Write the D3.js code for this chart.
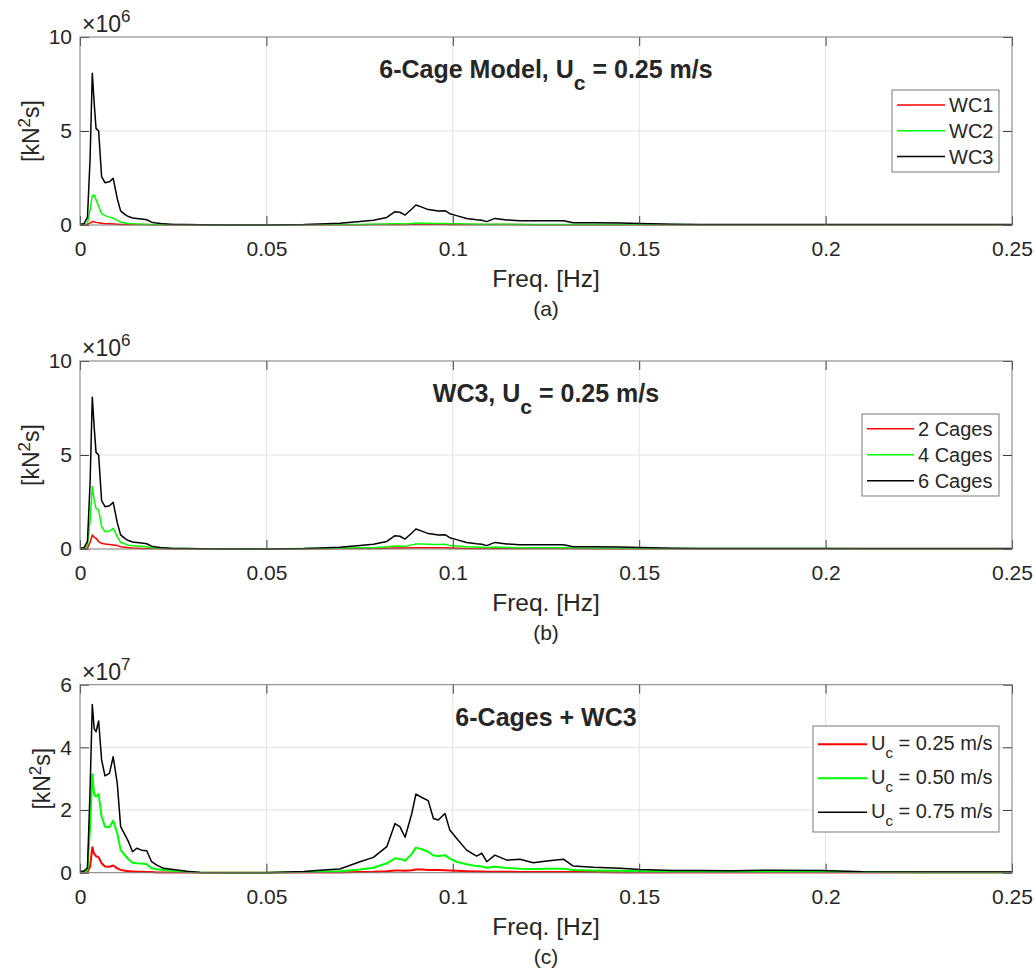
<!DOCTYPE html>
<html>
<head>
<meta charset="utf-8">
<script src="https://cdn.jsdelivr.net/npm/d3@7"></script>
<style>
	body { margin: 0; background: #fff; }
	text { font-family: 'Liberation Sans', Arial, sans-serif; fill: #262626; }
	.tick text { font-size: 21px; }
</style>
</head>
<body>
<svg id="viz" width="1036" height="974"></svg>
<script>

// Frequency grid [Hz] shared by all the spectra
var freq = [ 0, 0.001, 0.002, 0.0027, 0.0033, 0.0038, 0.0043, 0.005, 0.0058, 0.0067,
	0.0079, 0.0089, 0.0100, 0.0109, 0.0121, 0.0130, 0.0141, 0.0152, 0.0165, 0.0179,
	0.0192, 0.0206, 0.0224, 0.025, 0.0286, 0.0322, 0.04, 0.05, 0.06, 0.0644,
	0.0697, 0.0751, 0.0787, 0.0823, 0.0845, 0.0858, 0.0872, 0.089, 0.0901, 0.0917,
	0.0934, 0.0948, 0.0961, 0.0979, 0.0992, 0.101, 0.1037, 0.1064, 0.1078, 0.1091,
	0.1113, 0.1145, 0.118, 0.1216, 0.1252, 0.1297, 0.1323, 0.1377, 0.1449, 0.1502,
	0.1592, 0.1663, 0.175, 0.185, 0.199, 0.21, 0.225, 0.24, 0.25 ];

// (a) 6-cage model, x1e6
var aWC1 = [ 0, 0.01, 0.03, 0.1, 0.18, 0.17, 0.14, 0.12, 0.09, 0.07,
	0.06, 0.05, 0.04, 0.03, 0.03, 0.02, 0.02, 0.02, 0.02, 0.02,
	0.01, 0.01, 0.01, 0.01, 0.01, 0.01, 0, 0, 0.01, 0.01,
	0.01, 0.01, 0.02, 0.02, 0.03, 0.03, 0.03, 0.04, 0.05, 0.04,
	0.04, 0.04, 0.04, 0.04, 0.03, 0.03, 0.02, 0.02, 0.02, 0.02,
	0.02, 0.02, 0.02, 0.01, 0.01, 0.01, 0.01, 0.01, 0.01, 0.01,
	0.01, 0.01, 0.01, 0.01, 0.01, 0.01, 0.01, 0.01, 0.01 ];
var aWC2 = [ 0.02, 0.02, 0.1, 0.8, 1.55, 1.6, 1.35, 1.0, 0.6, 0.5,
	0.42, 0.36, 0.25, 0.15, 0.11, 0.08, 0.06, 0.05, 0.04, 0.03,
	0.02, 0.02, 0.02, 0.02, 0.01, 0.01, 0, 0, 0.01, 0.02,
	0.02, 0.03, 0.04, 0.05, 0.06, 0.06, 0.05, 0.08, 0.1, 0.09,
	0.09, 0.08, 0.08, 0.08, 0.07, 0.06, 0.05, 0.04, 0.04, 0.03,
	0.04, 0.04, 0.03, 0.03, 0.03, 0.03, 0.02, 0.02, 0.02, 0.02,
	0.02, 0.01, 0.01, 0.01, 0.01, 0.01, 0.01, 0.01, 0.01 ];
var aWC3 = [ 0.05, 0.05, 0.4, 3.5, 8.07, 6.5, 5.14, 5.0, 2.57, 2.25,
	2.3, 2.48, 1.4, 0.75, 0.55, 0.45, 0.37, 0.35, 0.32, 0.28,
	0.15, 0.1, 0.06, 0.03, 0.02, 0.01, 0, 0, 0.02, 0.05,
	0.09, 0.18, 0.25, 0.4, 0.71, 0.68, 0.53, 0.85, 1.06, 0.95,
	0.82, 0.78, 0.74, 0.76, 0.6, 0.5, 0.35, 0.28, 0.25, 0.18,
	0.35, 0.27, 0.23, 0.22, 0.23, 0.23, 0.12, 0.12, 0.1, 0.08,
	0.04, 0.03, 0.02, 0.03, 0.02, 0.02, 0.02, 0.02, 0.02 ];

// (b) WC3, number of cages, x1e6
var b2Cages = [ 0, 0.01, 0.05, 0.35, 0.74, 0.62, 0.57, 0.39, 0.3, 0.27,
	0.24, 0.21, 0.18, 0.12, 0.09, 0.07, 0.05, 0.04, 0.03, 0.02,
	0.02, 0.02, 0.01, 0.01, 0.01, 0.01, 0, 0, 0.01, 0.01,
	0.02, 0.02, 0.03, 0.04, 0.05, 0.05, 0.05, 0.06, 0.07, 0.07,
	0.06, 0.06, 0.06, 0.06, 0.05, 0.04, 0.03, 0.03, 0.03, 0.02,
	0.03, 0.02, 0.02, 0.02, 0.02, 0.02, 0.02, 0.01, 0.01, 0.01,
	0.01, 0.01, 0.01, 0.01, 0.01, 0.01, 0.01, 0.01, 0.01 ];
var b4Cages = [ 0.02, 0.02, 0.2, 1.5, 3.32, 2.6, 2.16, 2.07, 1.19, 0.92,
	0.95, 1.1, 0.66, 0.35, 0.27, 0.2, 0.17, 0.16, 0.15, 0.12,
	0.07, 0.05, 0.04, 0.03, 0.02, 0.01, 0, 0, 0.02, 0.03,
	0.04, 0.06, 0.07, 0.12, 0.16, 0.15, 0.14, 0.22, 0.27, 0.26,
	0.25, 0.24, 0.24, 0.25, 0.18, 0.16, 0.12, 0.1, 0.09, 0.07,
	0.1, 0.08, 0.07, 0.06, 0.07, 0.07, 0.05, 0.04, 0.04, 0.03,
	0.02, 0.02, 0.02, 0.02, 0.02, 0.01, 0.01, 0.01, 0.01 ];
var b6Cages = aWC3;

// (c) 6 cages + WC3, current speed, x1e7
var cU025 = [ 0, 0, 0.02, 0.19, 0.81, 0.6, 0.53, 0.49, 0.3, 0.2,
	0.19, 0.23, 0.14, 0.09, 0.06, 0.05, 0.04, 0.03, 0.03, 0.02,
	0.02, 0.01, 0.01, 0.01, 0.01, 0, 0, 0, 0.01, 0.01,
	0.01, 0.02, 0.03, 0.05, 0.07, 0.07, 0.06, 0.08, 0.1, 0.1,
	0.09, 0.09, 0.085, 0.08, 0.07, 0.06, 0.05, 0.04, 0.04, 0.03,
	0.03, 0.03, 0.02, 0.02, 0.02, 0.02, 0.02, 0.02, 0.01, 0.01,
	0.01, 0.01, 0.01, 0.01, 0.01, 0.01, 0.01, 0.01, 0.01 ];
var cU050 = [ 0.02, 0.02, 0.08, 1.47, 3.14, 2.5, 2.43, 2.51, 1.79, 1.47,
	1.45, 1.66, 1.26, 0.72, 0.55, 0.43, 0.32, 0.3, 0.29, 0.27,
	0.14, 0.11, 0.09, 0.06, 0.03, 0.01, 0, 0, 0.02, 0.04,
	0.05, 0.1, 0.16, 0.3, 0.46, 0.44, 0.38, 0.6, 0.8, 0.75,
	0.67, 0.55, 0.53, 0.56, 0.45, 0.35, 0.27, 0.21, 0.2, 0.16,
	0.19, 0.15, 0.13, 0.12, 0.13, 0.13, 0.085, 0.07, 0.06, 0.05,
	0.04, 0.04, 0.03, 0.04, 0.04, 0.02, 0.01, 0.01, 0.01 ];
var cU075 = [ 0.05, 0.05, 0.15, 2.64, 5.37, 4.6, 4.5, 4.84, 3.6, 3.09,
	3.17, 3.7, 2.85, 1.47, 1.2, 0.99, 0.67, 0.78, 0.72, 0.7,
	0.35, 0.24, 0.14, 0.1, 0.05, 0.01, 0, 0, 0.04, 0.08,
	0.12, 0.35, 0.49, 0.83, 1.57, 1.47, 1.13, 1.89, 2.51, 2.4,
	2.3, 1.73, 1.68, 1.89, 1.36, 1.1, 0.72, 0.53, 0.62, 0.35,
	0.56, 0.4, 0.43, 0.32, 0.37, 0.43, 0.21, 0.17, 0.14, 0.1,
	0.07, 0.07, 0.06, 0.08, 0.07, 0.03, 0.02, 0.02, 0.02 ];

var xTicks = [ 0, 0.05, 0.1, 0.15, 0.2, 0.25 ];
var xTickLabels = [ '0', '0.05', '0.1', '0.15', '0.2', '0.25' ];

var panels = [
	{
		top: 37, bottom: 225, yMax: 10, yTicks: [ 0, 5, 10 ], exponent: '6',
		title: [ '6-Cage Model, U', 'c', ' = 0.25 m/s' ], caption: '(a)', yLabelX: 39,
		series: [
			{ name: 'WC1', values: aWC1, color: '#ff0000', width: 1.5 },
			{ name: 'WC2', values: aWC2, color: '#00ff00', width: 1.5 },
			{ name: 'WC3', values: aWC3, color: '#000000', width: 1.5 }
		],
		legend: { x: 892, y: 90, w: 107, h: 82, first: 15, row: 25.8, lineW: 48, textX: 57, sub: false }
	},
	{
		top: 361, bottom: 549, yMax: 10, yTicks: [ 0, 5, 10 ], exponent: '6',
		title: [ 'WC3, U', 'c', ' = 0.25 m/s' ], caption: '(b)', yLabelX: 39,
		series: [
			{ name: '2 Cages', values: b2Cages, color: '#ff0000', width: 1.5 },
			{ name: '4 Cages', values: b4Cages, color: '#00ff00', width: 1.5 },
			{ name: '6 Cages', values: b6Cages, color: '#000000', width: 1.5 }
		],
		legend: { x: 862, y: 414, w: 137, h: 82, first: 14.7, row: 26, lineW: 47, textX: 56, sub: false }
	},
	{
		top: 684.7, bottom: 872.7, yMax: 6, yTicks: [ 0, 2, 4, 6 ], exponent: '7',
		title: [ '6-Cages + WC3' ], caption: '(c)', yLabelX: 50,
		series: [
			{ name: '0.25', values: cU025, color: '#ff0000', width: 2 },
			{ name: '0.50', values: cU050, color: '#00ff00', width: 2 },
			{ name: '0.75', values: cU075, color: '#000000', width: 1.5 }
		],
		legend: { x: 813, y: 726, w: 186, h: 106, first: 18.3, row: 34, lineW: 49, textX: 58, sub: true }
	}
];

var left = 80, right = 1012;
var svg = d3.select( '#viz' );

var xScale = d3.scaleLinear().domain( [ 0, 0.25 ] ).range( [ left, right ] );

panels.forEach( function ( p, pi ) {

	var yScale = d3.scaleLinear().domain( [ 0, p.yMax ] ).range( [ p.bottom, p.top ] );
	var g = svg.append( 'g' );

	// grid
	g.selectAll( 'line.gx' )
		.data( xTicks.slice( 1, -1 ) )
		.enter().append( 'line' )
		.attr( 'x1', function ( d ) { return xScale( d ); } )
		.attr( 'x2', function ( d ) { return xScale( d ); } )
		.attr( 'y1', p.top ).attr( 'y2', p.bottom )
		.style( 'stroke', '#e2e2e2' );
	g.selectAll( 'line.gy' )
		.data( p.yTicks.slice( 1, -1 ) )
		.enter().append( 'line' )
		.attr( 'x1', left ).attr( 'x2', right )
		.attr( 'y1', function ( d ) { return yScale( d ); } )
		.attr( 'y2', function ( d ) { return yScale( d ); } )
		.style( 'stroke', '#e2e2e2' );

	// curves
	svg.append( 'clipPath' ).attr( 'id', 'clip' + pi )
		.append( 'rect' ).attr( 'x', left ).attr( 'y', p.top - 1 )
		.attr( 'width', right - left ).attr( 'height', p.bottom - p.top + 2 );

	var line = d3.line()
		.x( function ( d, i ) { return xScale( freq[i] ); } )
		.y( function ( d ) { return yScale( d ); } );

	g.append( 'g' ).attr( 'clip-path', 'url(#clip' + pi + ')' )
		.selectAll( 'path' )
		.data( p.series )
		.enter().append( 'path' )
		.attr( 'd', function ( s ) { return line( s.values ); } )
		.style( 'fill', 'none' )
		.style( 'stroke', function ( s ) { return s.color; } )
		.style( 'stroke-width', function ( s ) { return s.width; } )
		.style( 'stroke-linejoin', 'round' );

	// axes, ticks pointing inwards on all four sides
	var xb = d3.axisBottom( xScale ).tickValues( xTicks )
		.tickFormat( function ( d, i ) { return xTickLabels[i]; } )
		.tickSize( -9 ).tickPadding( 16 );
	var xt = d3.axisTop( xScale ).tickValues( xTicks ).tickFormat( '' ).tickSize( -9 );
	var yl = d3.axisLeft( yScale ).tickValues( p.yTicks ).tickFormat( d3.format( 'd' ) )
		.tickSize( -9 ).tickPadding( 8 );
	var yr = d3.axisRight( yScale ).tickValues( p.yTicks ).tickFormat( '' ).tickSize( -9 );

	[
		g.append( 'g' ).attr( 'transform', 'translate(0,' + p.bottom + ')' ).call( xb ),
		g.append( 'g' ).attr( 'transform', 'translate(0,' + p.top + ')' ).call( xt ),
		g.append( 'g' ).attr( 'transform', 'translate(' + left + ',0)' ).call( yl ),
		g.append( 'g' ).attr( 'transform', 'translate(' + right + ',0)' ).call( yr )
	].forEach( function ( ax ) {
		ax.select( '.domain' ).remove();
		ax.selectAll( '.tick line' ).style( 'stroke', '#404040' );
		ax.selectAll( '.tick text' ).style( 'fill', '#262626' ).attr( 'font-family', null );
		ax.attr( 'font-size', null ).attr( 'font-family', null );
	} );

	g.append( 'rect' )
		.attr( 'x', left ).attr( 'y', p.top )
		.attr( 'width', right - left ).attr( 'height', p.bottom - p.top )
		.style( 'fill', 'none' ).style( 'stroke', '#7a7a7a' );

	// exponent
	var ex = g.append( 'text' ).attr( 'x', 82 ).attr( 'y', p.top - 5 ).style( 'font-size', '23px' );
	ex.append( 'tspan' ).text( '\u00d710' );
	ex.append( 'tspan' ).attr( 'dy', -10 ).style( 'font-size', '17px' ).text( p.exponent );

	// y label
	var yMid = ( p.top + p.bottom ) / 2;
	var yl2 = g.append( 'text' )
		.attr( 'transform', 'translate(' + p.yLabelX + ',' + yMid + ') rotate(-90)' )
		.attr( 'text-anchor', 'middle' ).style( 'font-size', '23px' );
	yl2.append( 'tspan' ).text( '[kN' );
	yl2.append( 'tspan' ).attr( 'dy', -9 ).style( 'font-size', '17px' ).text( '2' );
	yl2.append( 'tspan' ).attr( 'dy', 9 ).text( 's]' );

	// x label + caption
	var xMid = ( left + right ) / 2;
	g.append( 'text' ).attr( 'x', xMid ).attr( 'y', p.bottom + 62 )
		.attr( 'text-anchor', 'middle' ).style( 'font-size', '24.5px' ).text( 'Freq. [Hz]' );
	g.append( 'text' ).attr( 'x', xMid ).attr( 'y', p.bottom + 91 )
		.attr( 'text-anchor', 'middle' ).style( 'font-size', '21px' ).text( p.caption );

	// title
	var t = g.append( 'text' ).attr( 'x', xMid ).attr( 'y', p.top + 41 )
		.attr( 'text-anchor', 'middle' )
		.style( 'font-size', '25px' ).style( 'font-weight', 'bold' );
	t.append( 'tspan' ).text( p.title[0] );
	if ( p.title.length > 1 ) {
		t.append( 'tspan' ).attr( 'dy', 12 ).style( 'font-size', '21px' ).text( p.title[1] );
		t.append( 'tspan' ).attr( 'dy', -12 ).text( p.title[2] );
	}

	// legend
	var L = p.legend;
	var lg = g.append( 'g' ).attr( 'transform', 'translate(' + L.x + ',' + L.y + ')' );
	lg.append( 'rect' ).attr( 'width', L.w ).attr( 'height', L.h )
		.style( 'fill', '#fff' ).style( 'stroke', '#7a7a7a' );
	var rows = lg.selectAll( 'g.row' )
		.data( p.series )
		.enter().append( 'g' )
		.attr( 'transform', function ( d, i ) { return 'translate(0,' + ( L.first + i * L.row ) + ')'; } );
	rows.append( 'line' )
		.attr( 'x1', 5 ).attr( 'x2', 5 + L.lineW )
		.style( 'stroke', function ( s ) { return s.color; } )
		.style( 'stroke-width', function ( s ) { return s.width; } );
	var lt = rows.append( 'text' ).attr( 'x', L.textX ).attr( 'y', 7 ).style( 'font-size', '20px' );
	if ( L.sub ) {
		lt.append( 'tspan' ).attr( 'dy', -1 ).text( 'U' );
		lt.append( 'tspan' ).attr( 'dy', 8 ).style( 'font-size', '15px' ).text( 'c' );
		lt.append( 'tspan' ).attr( 'dy', -8 ).text( function ( s ) { return ' = ' + s.name + ' m/s'; } );
	} else {
		lt.text( function ( s ) { return s.name; } );
	}

} );

</script>
</body>
</html>
